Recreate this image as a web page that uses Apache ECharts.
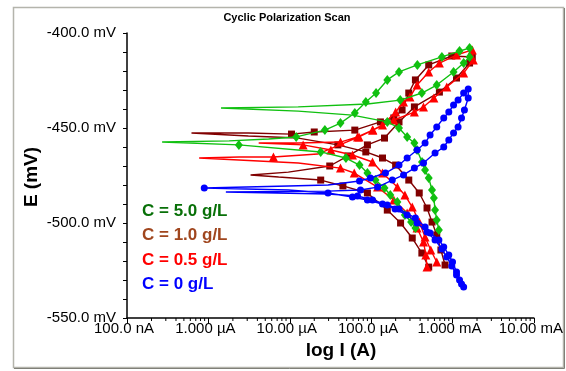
<!DOCTYPE html>
<html><head><meta charset="utf-8">
<script src="https://cdn.jsdelivr.net/npm/echarts@6.0.0/dist/echarts.min.js"></script>
<style>html,body{margin:0;padding:0;background:#fff}#c{width:566px;height:371px}</style>
</head><body><div id="c"></div>
<script>
// ---------- tick labels ----------
const xTickLabels = ['100.0 nA','1.000 µA','10.00 µA','100.0 µA','1.000 mA','10.00 mA'];
const xDecades = [1e-7,1e-6,1e-5,1e-4,1e-3,1e-2];
const xMinorMantissas = [2,3,4,5,6,7,8,9];
const yTickLabels = ['-550.0 mV','-500.0 mV','-450.0 mV','-400.0 mV'];
const yTickValues = [-550,-500,-450,-400];
const legendLabels = ['C = 5.0 g/L','C = 1.0 g/L','C = 0.5 g/L','C = 0 g/L'];

// ---------- data: [I (A), E (mV)] ----------
// C = 5.0 g/L (green)
const gFwdCath = [[3.5e-4,-502.6],[3.1e-4,-499.5],[2.6e-4,-495.8],[2.1e-4,-488.9],[1.72e-4,-485.3],[1.46e-4,-481.6],[1.13e-4,-477.4],[9.0e-5,-473.7],[7.2e-5,-469.5],[4.9e-5,-465.8],[2.4e-5,-462.6],[2.37e-6,-458.9]];
const gSpikeA = [[2.7e-7,-457.4],[1.8e-6,-456.8],[5.5e-6,-455.8]];
const gFwdAnod = [[1.2e-5,-454.7],[2.7e-5,-451.1],[4.2e-5,-447.4],[6.3e-5,-442.1],[8.6e-5,-436.3],[1.15e-4,-431.6],[1.58e-4,-424.7],[2.2e-4,-420.5],[3.7e-4,-416.8],[7.4e-4,-412.6],[1.22e-3,-409.5],[1.62e-3,-407.9]];
const gRevAnod = [[1.62e-3,-412.6],[1.37e-3,-415.8],[1.03e-3,-420.5],[6.4e-4,-427.4],[4.2e-4,-431.6],[2.28e-4,-435.3]];
const gSpikeB = [[9.0e-5,-437.4],[1.27e-5,-438.9],[1.43e-6,-439.5],[1.27e-5,-441.1],[5.9e-5,-443.2]];
const gRevCath = [[1.58e-4,-446.8],[2.2e-4,-450.0],[2.77e-4,-454.7],[3.4e-4,-457.9],[3.67e-4,-461.6],[4.22e-4,-467.9],[4.6e-4,-472.1],[5.1e-4,-476.3],[5.6e-4,-482.6],[5.9e-4,-486.8],[6.1e-4,-493.2],[6.4e-4,-498.4],[6.8e-4,-503.7]];

// C = 1.0 g/L (maroon)
const brFwdCath = [[5.1e-4,-523.2],[4.2e-4,-515.8],[3.2e-4,-507.9],[2.3e-4,-500.0],[1.58e-4,-493.2],[9.0e-5,-484.2],[4.5e-5,-480.5],[2.4e-5,-477.4]];
const brSpike2 = [[7.3e-6,-475.8],[3.3e-6,-474.7],[9.6e-6,-473.2]];
const brFwdAnod = [[3.1e-5,-470.0],[5.2e-5,-464.7],[9.0e-5,-458.9],[1.46e-4,-455.3],[2.2e-4,-446.8],[3.4e-4,-438.9],[6.9e-4,-431.1],[1.12e-3,-423.7],[1.62e-3,-415.8]];
const brRevAnod = [[1.75e-3,-412.6],[9.8e-4,-412.1],[5.1e-4,-416.8],[3.5e-4,-424.7],[2.9e-4,-431.6],[2.4e-4,-440.5],[1.9e-4,-444.7],[1.3e-4,-446.8],[6.3e-5,-451.1],[2.0e-5,-452.1],[1.05e-5,-453.2]];
const brSpike1 = [[3.1e-6,-452.6],[6.2e-7,-452.6],[3.1e-6,-454.2],[1.27e-5,-455.3]];
const brRevCath = [[3.9e-5,-458.9],[8.6e-5,-462.6],[1.38e-4,-465.8],[2.0e-4,-469.5],[2.9e-4,-477.4],[3.9e-4,-484.2],[4.86e-4,-492.1],[5.6e-4,-499.5],[6.4e-4,-506.3],[7.2e-4,-514.2],[8.1e-4,-522.1]];

// C = 0.5 g/L (red)
const rFwdCath = [[4.86e-4,-523.2],[4.7e-4,-516.8],[4.4e-4,-510.0],[3.67e-4,-502.6],[2.77e-4,-494.7],[1.9e-4,-487.9],[1.2e-4,-481.1],[6.2e-5,-473.7],[4.2e-5,-471.1]];
const rSpike1In = [[1.27e-5,-468.4],[7.7e-7,-465.8],[2.4e-6,-465.3]];
const rSpike1Mark = [[6.3e-6,-465.3]];
const rSpike1Out = [[2.2e-5,-463.7]];
const rFwdAnod = [[7.1e-5,-454.7],[1.05e-4,-451.1],[1.9e-4,-445.8],[3.4e-4,-441.6],[4.4e-4,-438.9],[5.9e-4,-434.2],[8.5e-4,-428.4],[1.37e-3,-421.1],[1.8e-3,-414.2]];
const rRevAnod = [[1.75e-3,-408.9],[1.12e-3,-411.6],[6.9e-4,-415.8],[5.1e-4,-420.5],[3.67e-4,-427.4],[3.0e-4,-433.7],[2.5e-4,-436.3],[2.0e-4,-441.6],[1.38e-4,-448.4],[1.04e-4,-451.1],[6.8e-5,-454.7],[4.2e-5,-457.4]];
const rSpike2 = [[1.27e-5,-457.9],[4.15e-6,-457.9],[8.4e-6,-458.4]];
const rRevCath = [[1.46e-5,-458.9],[3.2e-5,-461.6],[5.9e-5,-464.2],[1.04e-4,-467.9],[1.38e-4,-473.7],[2.1e-4,-481.1],[2.6e-4,-485.3],[3.2e-4,-491.6],[3.9e-4,-499.5],[4.6e-4,-507.4],[5.4e-4,-514.2],[6.4e-4,-520.5]];

// C = 0 g/L (blue)
const bFwdCath = [[1.29e-3,-532.1],[1.12e-3,-527.4],[9.8e-4,-522.6],[8.5e-4,-517.9],[7.4e-4,-513.7],[6.1e-4,-508.9],[4.86e-4,-504.7],[3.67e-4,-500.0],[2.77e-4,-495.8],[1.97e-4,-492.6],[1.38e-4,-490.0],[9.0e-5,-487.9],[5.9e-5,-486.3],[2.95e-5,-484.2]];
const bSpike1In = [[9.6e-6,-482.6]];
const bSpike1Tip = [[8.9e-7,-481.6]];
const bSpike1Out = [[9.6e-6,-480.5],[2.95e-5,-480.0]];
const bFwdAnod = [[7.2e-5,-477.9],[9.8e-5,-476.3],[1.5e-4,-473.7],[2.2e-4,-469.5],[2.77e-4,-465.8],[3.67e-4,-461.6],[4.6e-4,-457.9],[5.3e-4,-453.7],[6.4e-4,-449.5],[7.8e-4,-444.7],[9.0e-4,-441.6],[1.03e-3,-437.9],[1.17e-3,-435.3],[1.37e-3,-431.6],[1.56e-3,-429.5]];
const bRevAnod = [[1.56e-3,-434.2],[1.4e-3,-440.5],[1.29e-3,-444.7],[1.17e-3,-449.5],[1.03e-3,-452.6],[9.0e-4,-456.3],[7.8e-4,-460.0],[6.1e-4,-463.2],[4.4e-4,-468.4],[3.4e-4,-471.1],[2.5e-4,-474.7],[1.82e-4,-477.4],[1.2e-4,-481.1],[7.4e-5,-482.6]];
const bSpike2 = [[2.95e-5,-483.2],[1.64e-6,-483.7],[2.95e-5,-484.7]];
const bRevCath = [[6.8e-5,-485.8],[1.04e-4,-487.9],[1.58e-4,-490.5],[2.2e-4,-492.6],[3.5e-4,-497.4],[4.6e-4,-502.1],[5.3e-4,-505.3],[6.8e-4,-508.9],[7.8e-4,-512.6],[9.0e-4,-516.8],[1.0e-3,-520.5],[1.12e-3,-525.8],[1.22e-3,-530.0],[1.37e-3,-533.7]];

// ---------- assembly ----------
const curves = [
  {path:[brFwdCath,brSpike2,brFwdAnod,brRevAnod,brSpike1,brRevCath], marks:[brFwdCath,brFwdAnod,brRevAnod,brRevCath], color:'#800000', symbol:'rect', size:7},
  {path:[rFwdCath,rSpike1In,rSpike1Mark,rSpike1Out,rFwdAnod,rRevAnod,rSpike2,rRevCath], marks:[rFwdCath,rSpike1Mark,rFwdAnod,rRevAnod,rRevCath], color:'#ff0000', symbol:'triangle', size:9},
  {path:[gFwdCath,gSpikeA,gFwdAnod,gRevAnod,gSpikeB,gRevCath], marks:[gFwdCath,gFwdAnod,gRevAnod,gRevCath], color:'#10c010', symbol:'diamond', size:[8,10]},
  {path:[bFwdCath,bSpike1In,bSpike1Tip,bSpike1Out,bFwdAnod,bRevAnod,bSpike2,bRevCath], marks:[bFwdCath,bSpike1Tip,bFwdAnod,bRevAnod,bRevCath], color:'#0000ff', symbol:'circle', size:7}
];
const series = [];
curves.forEach((c,i)=>{
  series.push({type:'line', data:[].concat(...c.path), symbol:'none', showSymbol:false, lineStyle:{color:c.color,width:1.4}, z:2+i*2, silent:true, animation:false});
  series.push({type:'scatter', data:[].concat(...c.marks), symbol:c.symbol, symbolSize:c.size, itemStyle:{color:c.color,opacity:1}, z:3+i*2, silent:true, animation:false});
});
const minorTicks = [];
xDecades.slice(0,5).forEach(d=>xMinorMantissas.forEach(m=>minorTicks.push([d*m,-550])));
series.push({type:'custom', data:minorTicks, clip:false, silent:true, z:20, animation:false,
  renderItem:(p,api)=>{const pt=api.coord([api.value(0),api.value(1)]);
    return {type:'line', shape:{x1:pt[0],y1:pt[1],x2:pt[0],y2:pt[1]+3}, style:{stroke:'#000',lineWidth:1}};}});

const legendColors = ['#087008','#a0461e','#ff0000','#0000ff'];
const FONT = '"Liberation Sans", Arial, sans-serif';
const graphics = [
  {type:'rect', shape:{x:13.5,y:7.5,width:550,height:360}, style:{fill:'none',stroke:'#b4b4ac',lineWidth:1.5}, silent:true},
  {type:'polyline', shape:{points:[[564.5,8],[564.5,368.5],[14,368.5]]}, style:{fill:'none',stroke:'#808078',lineWidth:1}, silent:true},
  {type:'text', x:287, y:18, style:{text:'Cyclic Polarization Scan', font:'bold 11px '+FONT, fill:'#000', textAlign:'center', textVerticalAlign:'middle'}},
  {type:'text', x:32, y:177, rotation:Math.PI/2, style:{text:'E (mV)', font:'bold 19px '+FONT, fill:'#000', textAlign:'center', textVerticalAlign:'middle'}},
  {type:'text', x:341, y:351, style:{text:'log I (A)', font:'bold 19px '+FONT, fill:'#000', textAlign:'center', textVerticalAlign:'middle'}}
];
legendLabels.forEach((t,i)=>graphics.push({type:'text', x:142, y:211+i*24.5, style:{text:t, font:'bold 17px '+FONT, fill:legendColors[i], textAlign:'left', textVerticalAlign:'middle'}}));

const chart = echarts.init(document.getElementById('c'));
chart.setOption({
  animation:false,
  backgroundColor:'#fff',
  grid:{left:127, right:29, top:33, bottom:53, containLabel:false},
  xAxis:{type:'log', logBase:10, min:1e-7, max:1e-2, splitNumber:5,
    axisLine:{show:true, onZero:false, lineStyle:{color:'#000', width:1.5}},
    axisTick:{show:true, length:5, lineStyle:{color:'#000'}},
    splitLine:{show:false},
    axisLabel:{color:'#000', fontSize:15, fontFamily:FONT, margin:3, padding:[0,6,0,0], showMaxLabel:true, showMinLabel:true,
      formatter:v=>{const k=xDecades.findIndex(d=>Math.abs(Math.log10(d)-Math.log10(v))<1e-6); return k>=0?xTickLabels[k]:'';}}
  },
  yAxis:{type:'value', min:-550, max:-400, interval:50,
    axisLine:{show:true, onZero:false, lineStyle:{color:'#000', width:1.5}},
    axisTick:{show:true, length:4, lineStyle:{color:'#000'}},
    minorTick:{show:true, splitNumber:5, length:4, lineStyle:{color:'#000'}},
    splitLine:{show:false},
    axisLabel:{color:'#000', fontSize:15, fontFamily:FONT, margin:11,
      formatter:v=>{const k=yTickValues.indexOf(Math.round(v)); return k>=0?yTickLabels[k]:'';}}
  },
  graphic:graphics,
  series:series
});
</script></body></html>
